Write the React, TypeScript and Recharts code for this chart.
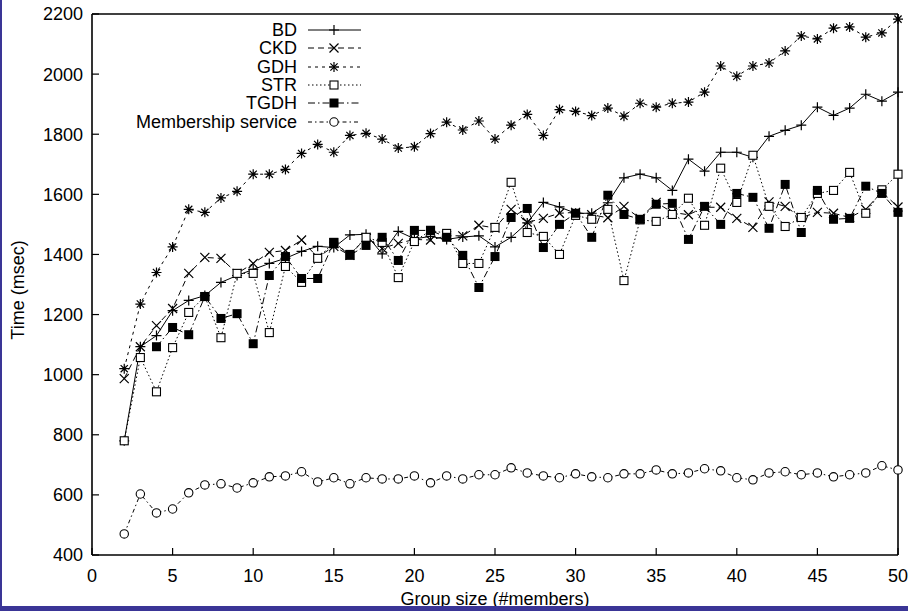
import { LineChart, Line, XAxis, YAxis } from 'recharts';

// group size (#members)
const groupSizes = [
  2, 3, 4, 5, 6, 7, 8, 9, 10, 11, 12, 13, 14, 15, 16, 17, 18, 19, 20, 21, 22, 23, 24, 25, 26,
  27, 28, 29, 30, 31, 32, 33, 34, 35, 36, 37, 38, 39, 40, 41, 42, 43, 44, 45, 46, 47, 48, 49, 50,
];

const bd = [
  780, 1093, 1130, 1213, 1247, 1263, 1307, 1330, 1350, 1370, 1387, 1410, 1427, 1423, 1465, 1467,
  1402, 1477, 1452, 1460, 1450, 1458, 1462, 1425, 1457, 1505, 1573, 1558, 1537, 1537, 1572, 1655,
  1667, 1655, 1613, 1717, 1677, 1740, 1740, 1723, 1793, 1813, 1830, 1890, 1863, 1887, 1933, 1910, 1940,
];
const ckd = [
  987, 1093, 1163, 1220, 1337, 1390, 1387, 1337, 1370, 1407, 1413, 1448, 1390, 1427, 1397, 1457,
  1420, 1437, 1450, 1448, 1462, 1462, 1497, 1488, 1550, 1507, 1520, 1537, 1540, 1532, 1522, 1560,
  1520, 1573, 1540, 1532, 1557, 1557, 1520, 1490, 1575, 1560, 1523, 1540, 1537, 1523, 1550, 1608, 1558,
];
const gdh = [
  1020, 1235, 1340, 1425, 1550, 1540, 1588, 1610, 1667, 1667, 1683, 1736, 1766, 1740, 1796, 1803,
  1784, 1754, 1758, 1802, 1840, 1814, 1844, 1784, 1830, 1866, 1796, 1882, 1876, 1862, 1887, 1860,
  1903, 1890, 1903, 1907, 1940, 2027, 1993, 2027, 2037, 2077, 2127, 2117, 2153, 2157, 2123, 2137, 2183,
];
const str = [
  780, 1057, 943, 1090, 1207, 1260, 1123, 1337, 1337, 1140, 1360, 1307, 1387, 1440, 1400, 1457,
  1440, 1323, 1443, 1480, 1470, 1370, 1370, 1490, 1640, 1473, 1460, 1400, 1530, 1517, 1550, 1313,
  1515, 1510, 1533, 1587, 1497, 1687, 1573, 1730, 1560, 1493, 1523, 1603, 1613, 1673, 1537, 1615, 1667,
];
const tgdh = [
  null, null, 1093, 1157, 1133, 1260, 1187, 1203, 1103, 1330, 1393, 1320, 1320, 1440, 1397, 1430,
  1457, 1380, 1480, 1480, 1457, 1397, 1290, 1393, 1523, 1553, 1423, 1500, 1537, 1457, 1597, 1533,
  1517, 1567, 1570, 1450, 1560, 1500, 1603, 1590, 1487, 1633, 1473, 1613, 1517, 1520, 1627, 1603, 1540,
];
const membership = [
  470, 603, 540, 553, 607, 633, 637, 623, 640, 660, 663, 677, 643, 657, 637, 657, 653, 653, 663,
  640, 663, 653, 667, 667, 690, 673, 663, 657, 670, 660, 657, 670, 670, 683, 670, 673, 687, 680,
  657, 650, 673, 677, 667, 673, 660, 667, 673, 697, 683,
];

const xTicks = [0, 5, 10, 15, 20, 25, 30, 35, 40, 45, 50];
const yTicks = [400, 600, 800, 1000, 1200, 1400, 1600, 1800, 2000, 2200];

const data = groupSizes.map((n, i) => ({
  n,
  bd: bd[i],
  ckd: ckd[i],
  gdh: gdh[i],
  str: str[i],
  tgdh: tgdh[i],
  membership: membership[i],
}));

const FONT = '"Liberation Sans", Arial, Helvetica, sans-serif';

type Shape = 'plus' | 'cross' | 'star' | 'square' | 'filled' | 'circle';

function marker(shape: Shape, cx: number, cy: number, key?: string) {
  const s = 4.5;
  switch (shape) {
    case 'plus':
      return <path key={key} d={`M${cx - 5},${cy}h10M${cx},${cy - 5}v10`} stroke="#000" strokeWidth={1.2} fill="none" />;
    case 'cross':
      return <path key={key} d={`M${cx - s},${cy - s}L${cx + s},${cy + s}M${cx - s},${cy + s}L${cx + s},${cy - s}`} stroke="#000" strokeWidth={1.2} fill="none" />;
    case 'star':
      return (
        <path
          key={key}
          d={`M${cx - 5},${cy}h10M${cx},${cy - 5}v10M${cx - 3.6},${cy - 3.6}L${cx + 3.6},${cy + 3.6}M${cx - 3.6},${cy + 3.6}L${cx + 3.6},${cy - 3.6}`}
          stroke="#000"
          strokeWidth={1.2}
          fill="none"
        />
      );
    case 'square':
      return <rect key={key} x={cx - 4} y={cy - 4} width={8} height={8} stroke="#000" strokeWidth={1.1} fill="#fff" />;
    case 'filled':
      return <rect key={key} x={cx - 4.5} y={cy - 4.5} width={9} height={9} fill="#000" />;
    default:
      return <circle key={key} cx={cx} cy={cy} r={4.2} stroke="#000" strokeWidth={1.1} fill="#fff" />;
  }
}

const dot = (shape: Shape) => (props: any) => {
  const { cx, cy, value, key } = props;
  if (cx == null || cy == null || value == null) return <g key={key} />;
  return marker(shape, cx, cy, key);
};

const series: { key: string; name: string; dash?: string; shape: Shape }[] = [
  { key: 'bd', name: 'BD', shape: 'plus' },
  { key: 'ckd', name: 'CKD', dash: '6 4', shape: 'cross' },
  { key: 'gdh', name: 'GDH', dash: '3 4', shape: 'star' },
  { key: 'str', name: 'STR', dash: '1.5 2.5', shape: 'square' },
  { key: 'tgdh', name: 'TGDH', dash: '7 3 1.5 3', shape: 'filled' },
  { key: 'membership', name: 'Membership service', dash: '4 3 1.5 3', shape: 'circle' },
];

export default function App() {
  return (
    <div
      style={{
        position: 'absolute',
        top: 0,
        left: 0,
        width: 908,
        height: 611,
        background: '#fff',
        fontFamily: FONT,
        overflow: 'hidden',
      }}
    >
      <LineChart width={908} height={611} data={data} margin={{ top: 13, right: 9, bottom: 0, left: 0 }}>
        <XAxis
          dataKey="n"
          type="number"
          domain={[0, 50]}
          ticks={xTicks}
          height={56}
          tickSize={-7}
          tickMargin={21}
          axisLine={{ stroke: '#000', strokeWidth: 1.6 }}
          tickLine={{ stroke: '#000', strokeWidth: 1.2 }}
          tick={{ fill: '#000', fontSize: 18, fontFamily: FONT }}
        />
        <XAxis
          xAxisId="top"
          orientation="top"
          type="number"
          domain={[0, 50]}
          ticks={xTicks}
          height={1}
          tickSize={-7}
          tick={false}
          axisLine={{ stroke: '#000', strokeWidth: 1.6 }}
          tickLine={{ stroke: '#000', strokeWidth: 1.2 }}
        />
        <YAxis
          type="number"
          domain={[400, 2200]}
          ticks={yTicks}
          width={92}
          tickSize={-7}
          tickMargin={16}
          axisLine={{ stroke: '#000', strokeWidth: 1.6 }}
          tickLine={{ stroke: '#000', strokeWidth: 1.2 }}
          tick={{ fill: '#000', fontSize: 18, fontFamily: FONT }}
        />
        <YAxis
          yAxisId="right"
          orientation="right"
          type="number"
          domain={[400, 2200]}
          ticks={yTicks}
          width={1}
          tickSize={-7}
          tick={false}
          axisLine={{ stroke: '#000', strokeWidth: 1.6 }}
          tickLine={{ stroke: '#000', strokeWidth: 1.2 }}
        />
        {series.map((s) => (
          <Line
            key={s.key}
            dataKey={s.key}
            name={s.name}
            stroke="#000"
            strokeWidth={1}
            strokeDasharray={s.dash}
            dot={dot(s.shape)}
            activeDot={false}
            isAnimationActive={false}
            type="linear"
          />
        ))}
      </LineChart>

      {/* legend */}
      <div style={{ position: 'absolute', left: 100, top: 21 }}>
        {series.map((s) => (
          <div key={s.key} style={{ display: 'flex', alignItems: 'center', height: 18.3 }}>
            <span style={{ width: 197, textAlign: 'right', fontSize: 18, lineHeight: '18px', color: '#000' }}>{s.name}</span>
            <svg width={60} height={18} style={{ marginLeft: 10 }}>
              <line x1={1} y1={9} x2={54} y2={9} stroke="#000" strokeWidth={1} strokeDasharray={s.dash} />
              {marker(s.shape, 27, 9)}
            </svg>
          </div>
        ))}
      </div>

      {/* axis titles */}
      <div
        style={{
          position: 'absolute',
          left: 18,
          top: 290,
          transform: 'translate(-50%, -50%) rotate(-90deg)',
          fontSize: 18,
          whiteSpace: 'nowrap',
        }}
      >
        Time (msec)
      </div>
      <div
        style={{
          position: 'absolute',
          left: 495,
          top: 599,
          transform: 'translate(-50%, -50%)',
          fontSize: 18,
          whiteSpace: 'nowrap',
        }}
      >
        Group size (#members)
      </div>

      {/* frame */}
      <div style={{ position: 'absolute', left: 0, top: 0, width: 2, height: 611, background: '#3a3596' }} />
      <div style={{ position: 'absolute', left: 0, top: 606, width: 908, height: 5, background: '#3a3596' }} />
    </div>
  );
}
